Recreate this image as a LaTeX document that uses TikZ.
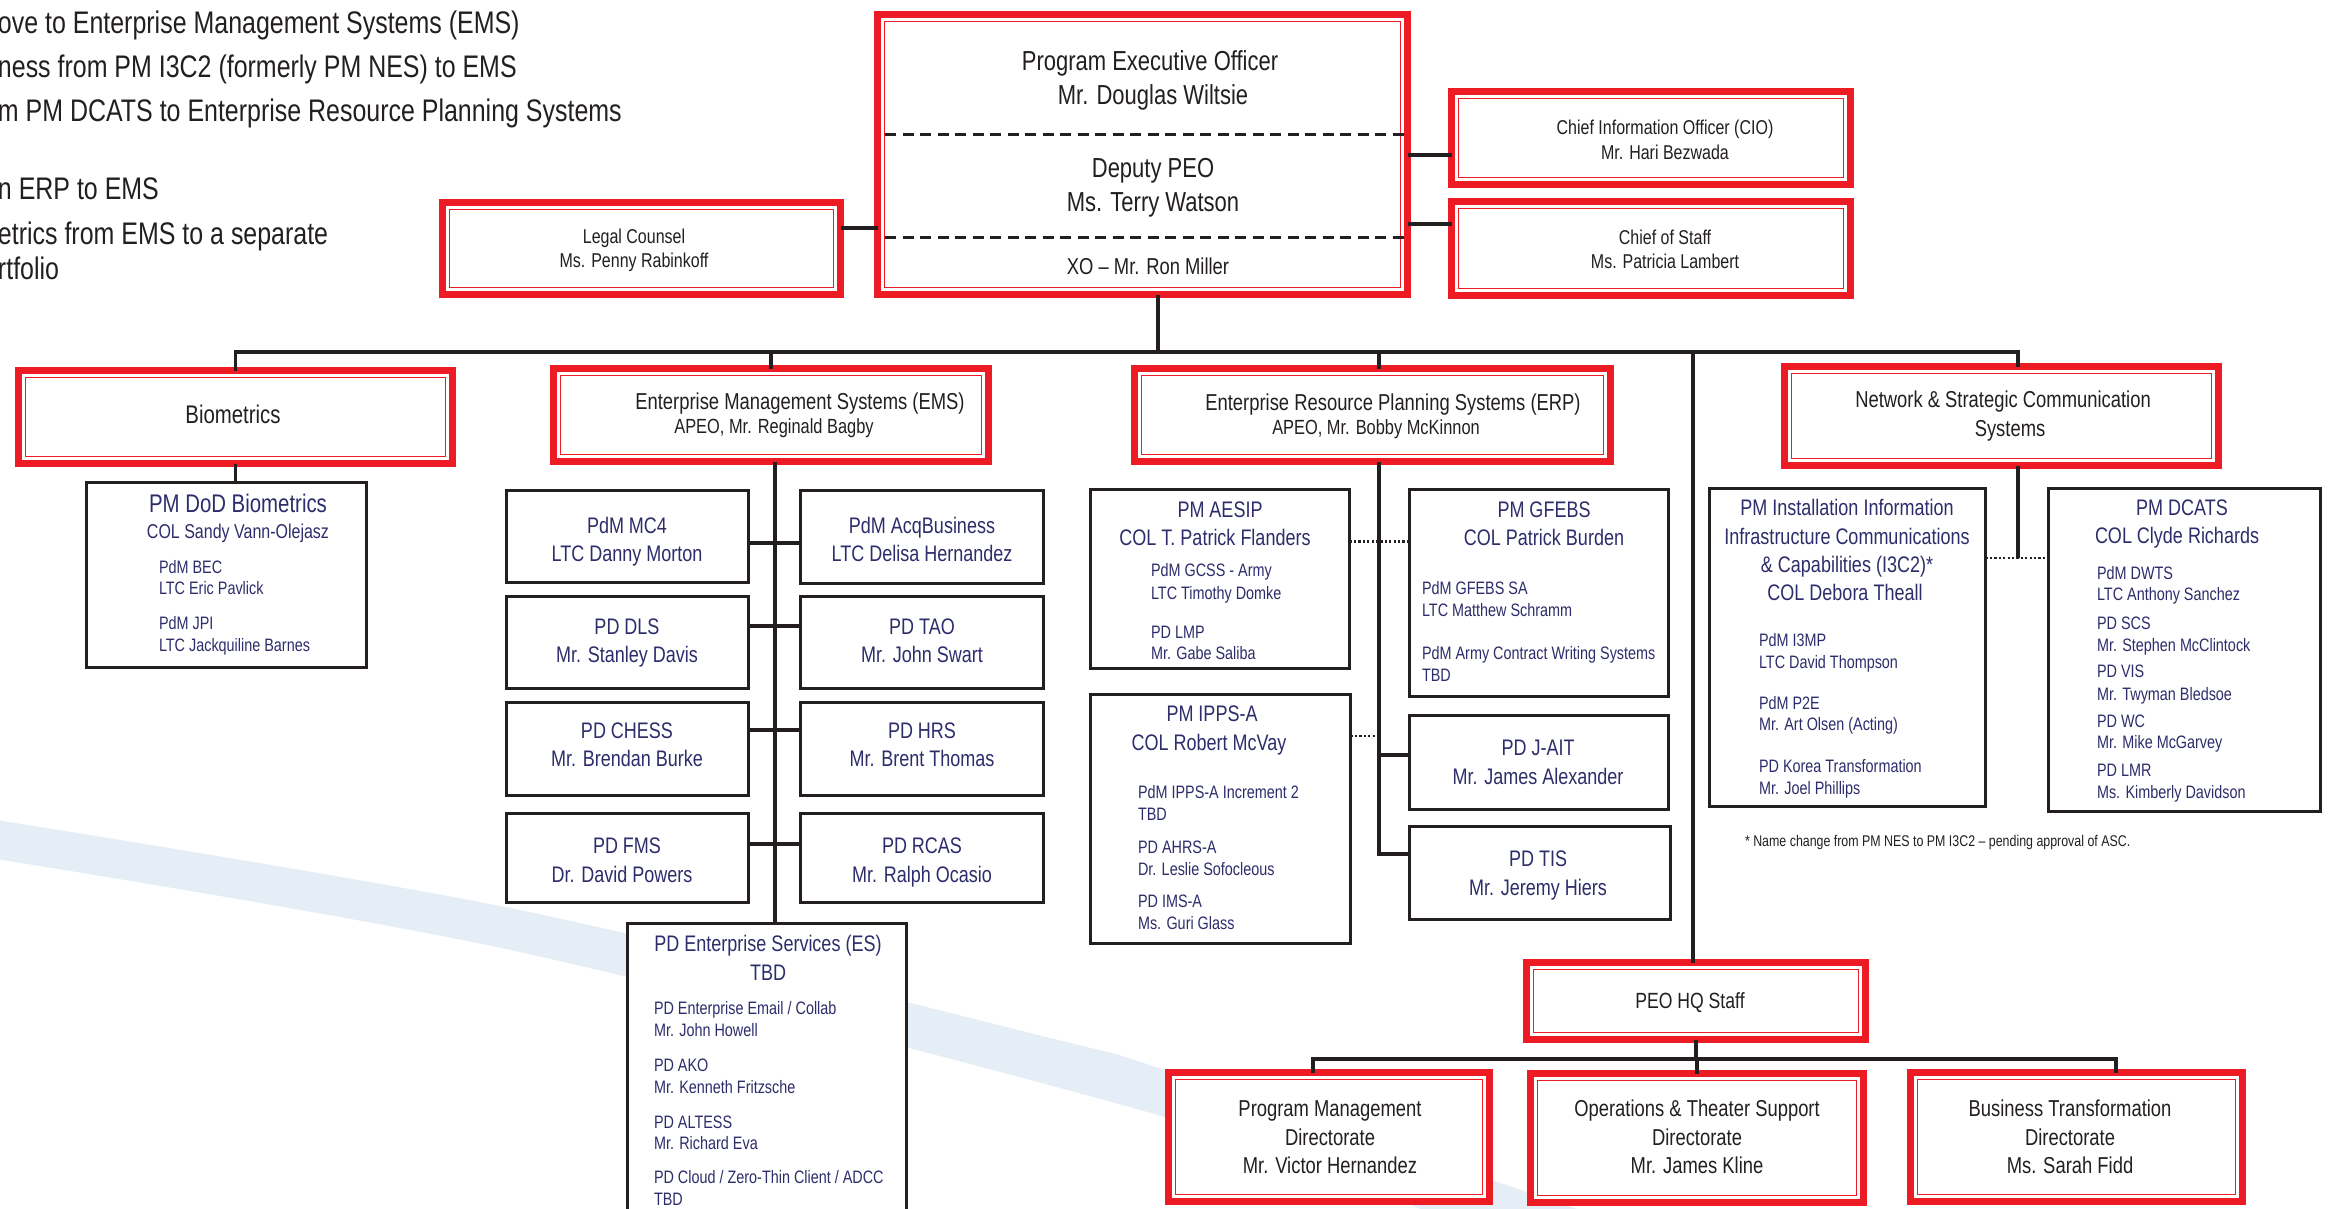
\documentclass[tikz,border=0pt]{standalone}
\usepackage{fontspec}
\setmainfont{Liberation Sans}[FakeStretch=0.8]
\usetikzlibrary{calc}
\definecolor{boxred}{HTML}{ED1C24}
\definecolor{ink}{HTML}{231F20}
\definecolor{navy}{HTML}{2E2D6B}
\definecolor{swoosh}{HTML}{E5EEF6}
\tikzset{
  redbox/.style={draw=boxred, line width=7pt, fill=white, inner sep=0pt, outer sep=0pt},
  redthin/.style={draw=boxred, line width=1.8pt},
  blkbox/.style={draw=ink, line width=3pt, fill=white, inner sep=0pt, outer sep=0pt},
  conn/.style={draw=ink, line width=3.5pt},
  dotc/.style={draw=ink, line width=2.8pt, dash pattern=on 2.2pt off 2.2pt},
  peodash/.style={draw=ink, line width=3pt, dash pattern=on 11pt off 6.5pt},
  tx/.style={inner sep=0pt, outer sep=0pt, anchor=base, font=\fontsize{#1pt}{#1pt}\selectfont, yshift={-0.36*#1pt}},
  tl/.style={tx=#1, anchor=base west},
}
\newcommand\RBox[5]{%
  \node[redbox, minimum width={(#4-#2-7)*1pt}, minimum height={(#5-#3-7)*1pt}] (#1) at ({(#2+#4)/2},{(#3+#5)/2}) {};
  \draw[redthin] ($(#1.south west)+(7,-7)$) rectangle ($(#1.north east)+(-7,7)$);}
\newcommand\BBox[5]{%
  \node[blkbox, minimum width={(#4-#2-3)*1pt}, minimum height={(#5-#3-3)*1pt}] (#1) at ({(#2+#4)/2},{(#3+#5)/2}) {};}
\begin{document}
\begin{tikzpicture}[x=1pt, y=-1pt]
\useasboundingbox (0,0) rectangle (2328,1209);
\fill[white] (0,0) rectangle (2328,1209);
% background swoosh
\fill[swoosh] plot[smooth] coordinates {(-10,819) (520,910) (1050,1038) (1165,1070) (1527,1192) (1600,1217)}
  -- plot[smooth] coordinates {(1440,1217) (1165,1117) (520,952) (-10,858)} -- cycle;

% top-left notes
\node[tl=31.2, ink] (n1) at (-2,22) {ove to Enterprise Management Systems (EMS)};
\node[tl=31.2, ink] (n2) at (-2,66.5) {ness from PM I3C2 (formerly PM NES) to EMS};
\node[tl=31.2, ink] (n3) at (-2,110) {m PM DCATS to Enterprise Resource Planning Systems};
\node[tl=31.2, ink] (n4) at (-2,188.5) {n ERP to EMS};
\node[tl=31.2, ink] (n5) at (-2,233) {etrics from EMS to a separate};
\node[tl=31.2, ink] (n6) at (-2,268.5) {rtfolio};

% red boxes
\RBox{peo}{874}{11}{1411}{298}
\RBox{cio}{1448}{88}{1854}{188}
\RBox{cos}{1448}{198}{1854}{299}
\RBox{legal}{439}{199}{844}{298}
\RBox{bio}{15}{367}{456}{467}
\RBox{ems}{550}{365}{992}{465}
\RBox{erp}{1131}{365}{1614}{465}
\RBox{nscs}{1781}{363}{2222}{469}
\RBox{hq}{1523}{959}{1869}{1043}
\RBox{pmd}{1165}{1069}{1493}{1205}
\RBox{ots}{1527}{1070}{1867}{1206}
\RBox{bt}{1907}{1069}{2246}{1205}

% black boxes
\BBox{pmbio}{85}{481}{368}{669}
\BBox{mc4}{505}{489}{750}{584}
\BBox{acq}{799}{489}{1045}{585}
\BBox{dls}{505}{595}{750}{690}
\BBox{tao}{799}{595}{1045}{690}
\BBox{chess}{505}{701}{750}{797}
\BBox{hrs}{799}{701}{1045}{797}
\BBox{fms}{505}{812}{750}{904}
\BBox{rcas}{799}{812}{1045}{904}
\BBox{es}{626}{922}{908}{1240}
\BBox{aesip}{1089}{488}{1351}{670}
\BBox{gfebs}{1408}{488}{1670}{698}
\BBox{ipps}{1089}{693}{1352}{945}
\BBox{jait}{1408}{714}{1670}{811}
\BBox{tis}{1408}{825}{1672}{921}
\BBox{i3c2}{1708}{487}{1987}{808}
\BBox{dcats}{2047}{487}{2322}{813}

% PEO dashed separators
\draw[peodash] (885,135) -- (1405,135);
\draw[peodash] (885,237) -- (1405,237);

% connector coordinates
\coordinate (busR) at (2018,352);
\coordinate (peoX) at (1158,352);
\coordinate (erpX) at (1379,352);
\coordinate (hqX) at (1693,352);
\coordinate (lgY) at (0,228);
\coordinate (cioY) at (0,155);
\coordinate (cosY) at (0,224);
\coordinate (emsX) at (775,0);
\coordinate (r1) at (775,543);
\coordinate (r2) at (775,626);
\coordinate (r3) at (775,730);
\coordinate (r4) at (775,844);
\coordinate (jY) at (1379,755);
\coordinate (tY) at (1379,854);
\coordinate (dA) at (1379,541.5);
\coordinate (dB) at (1379,736);
\coordinate (dN) at (2018,558);
\coordinate (sbL) at (1313,1059);
\coordinate (sbR) at (2116,1059);

% connectors
\draw[conn] (bio.north) |- (busR) -- (busR |- nscs.north);
\draw[conn] (peo.south -| peoX) -- (peoX);
\draw[conn] (ems.north) -- (ems.north |- busR);
\draw[conn] (erpX) -- (erpX |- erp.north);
\draw[conn] (hqX) -- (hqX |- hq.north);
\draw[conn] (legal.east |- lgY) -- (peo.west |- lgY);
\draw[conn] (peo.east |- cioY) -- (cio.west |- cioY);
\draw[conn] (peo.east |- cosY) -- (cos.west |- cosY);
\draw[conn] (bio.south) -- (bio.south |- pmbio.north);
\draw[conn] (emsX |- ems.south) -- (emsX |- es.north);
\foreach \l/\r/\c in {mc4/acq/r1, dls/tao/r2, chess/hrs/r3, fms/rcas/r4}
  \draw[conn] (\l.east |- \c) -- (\r.west |- \c);
\draw[conn] (erpX |- erp.south) -- (tY) -- (tY -| tis.west);
\draw[conn] (jY) -- (jY -| jait.west);
\draw[dotc] (aesip.east |- dA) -- (gfebs.west |- dA);
\draw[dotc] (ipps.east |- dB) -- (dB);
\draw[conn] (busR |- nscs.south) -- (dN);
\draw[dotc] (i3c2.east |- dN) -- (dcats.west |- dN);
\draw[conn] (hq.south) -- (hq.south |- sbL);
\draw[conn] (sbL |- pmd.north) -- (sbL) -- (sbR) -- (sbR |- bt.north);
\draw[conn] (ots.north) -- (ots.north |- sbL);

% red box texts
\node[tx=27.5, ink] (peo1) at (1150,61) {Program Executive Officer};
\node[tx=27.5, ink] (peo2) at (1153,95) {Mr. Douglas Wiltsie};
\node[tx=27.5, ink] (peo3) at (1153,168) {Deputy PEO};
\node[tx=27.5, ink] (peo4) at (1153,202) {Ms. Terry Watson};
\node[tx=23, ink] (peo5) at (1148,266) {XO – Mr. Ron Miller};
\node[tx=20, ink] (lg1) at (634,236) {Legal Counsel};
\node[tx=20, ink] (lg2) at (634,260) {Ms. Penny Rabinkoff};
\node[tx=20, ink] (cio1) at (1665,127) {Chief Information Officer (CIO)};
\node[tx=20, ink] (cio2) at (1665,152) {Mr. Hari Bezwada};
\node[tx=20, ink] (cos1) at (1665,237) {Chief of Staff};
\node[tx=20, ink] (cos2) at (1665,261) {Ms. Patricia Lambert};
\node[tx=25.5, ink] (bio1) at (233,414) {Biometrics};
\node[tx=23, ink] (ems1) at (800,401) {Enterprise Management Systems (EMS)};
\node[tx=20.5, ink] (ems2) at (774,426) {APEO, Mr. Reginald Bagby};
\node[tx=23, ink] (erp1) at (1393,402) {Enterprise Resource Planning Systems (ERP)};
\node[tx=20.5, ink] (erp2) at (1376,427) {APEO, Mr. Bobby McKinnon};
\node[tx=23, ink] (ns1) at (2003,399) {Network \& Strategic Communication};
\node[tx=23, ink] (ns2) at (2010,428) {Systems};
\node[tx=22, ink] (hq1) at (1690,1001) {PEO HQ Staff};
\node[tx=23, ink] (pmd1) at (1330,1108) {Program Management};
\node[tx=23, ink] (pmd2) at (1330,1137) {Directorate};
\node[tx=23, ink] (pmd3) at (1330,1165) {Mr. Victor Hernandez};
\node[tx=23, ink] (ots1) at (1697,1108) {Operations \& Theater Support};
\node[tx=23, ink] (ots2) at (1697,1137) {Directorate};
\node[tx=23, ink] (ots3) at (1697,1165) {Mr. James Kline};
\node[tx=23, ink] (bt1) at (2070,1108) {Business Transformation};
\node[tx=23, ink] (bt2) at (2070,1137) {Directorate};
\node[tx=23, ink] (bt3) at (2070,1165) {Ms. Sarah Fidd};

% PM DoD Biometrics
\node[tx=25.5, navy] (pb1) at (238,503) {PM DoD Biometrics};
\node[tx=20, navy] (pb2) at (238,531) {COL Sandy Vann-Olejasz};
\node[tl=18, navy] (pb3) at (159,567) {PdM BEC};
\node[tl=18, navy] (pb4) at (159,588) {LTC Eric Pavlick};
\node[tl=18, navy] (pb5) at (159,623) {PdM JPI};
\node[tl=18, navy] (pb6) at (159,645) {LTC Jackquiline Barnes};

% EMS children
\node[tx=22.5, navy] (mc41) at (627,525.5) {PdM MC4};
\node[tx=22.5, navy] (mc42) at (627,553) {LTC Danny Morton};
\node[tx=22.5, navy] (acq1) at (922,525.5) {PdM AcqBusiness};
\node[tx=22.5, navy] (acq2) at (922,553) {LTC Delisa Hernandez};
\node[tx=22.5, navy] (dls1) at (627,626) {PD DLS};
\node[tx=22.5, navy] (dls2) at (627,654) {Mr. Stanley Davis};
\node[tx=22.5, navy] (tao1) at (922,626) {PD TAO};
\node[tx=22.5, navy] (tao2) at (922,654) {Mr. John Swart};
\node[tx=22.5, navy] (ch1) at (627,730) {PD CHESS};
\node[tx=22.5, navy] (ch2) at (627,758) {Mr. Brendan Burke};
\node[tx=22.5, navy] (hrs1) at (922,730) {PD HRS};
\node[tx=22.5, navy] (hrs2) at (922,758) {Mr. Brent Thomas};
\node[tx=22.5, navy] (fms1) at (627,845.5) {PD FMS};
\node[tx=22.5, navy] (fms2) at (622,874.5) {Dr. David Powers};
\node[tx=22.5, navy] (rc1) at (922,845.5) {PD RCAS};
\node[tx=22.5, navy] (rc2) at (922,874.5) {Mr. Ralph Ocasio};

% ES
\node[tx=22.5, navy] (es1) at (768,943) {PD Enterprise Services (ES)};
\node[tx=22.5, navy] (es2) at (768,972) {TBD};
\node[tl=18, navy] (es3) at (654,1008) {PD Enterprise Email / Collab};
\node[tl=18, navy] (es4) at (654,1030) {Mr. John Howell};
\node[tl=18, navy] (es5) at (654,1065) {PD AKO};
\node[tl=18, navy] (es6) at (654,1087) {Mr. Kenneth Fritzsche};
\node[tl=18, navy] (es7) at (654,1122) {PD ALTESS};
\node[tl=18, navy] (es8) at (654,1143) {Mr. Richard Eva};
\node[tl=18, navy] (es9) at (654,1177) {PD Cloud / Zero-Thin Client / ADCC};
\node[tl=18, navy] (es10) at (654,1199) {TBD};

% ERP children
\node[tx=22.5, navy] (ae1) at (1220,509) {PM AESIP};
\node[tx=22.5, navy] (ae2) at (1215,537) {COL T. Patrick Flanders};
\node[tl=18, navy] (ae3) at (1151,570) {PdM GCSS - Army};
\node[tl=18, navy] (ae4) at (1151,593) {LTC Timothy Domke};
\node[tl=18, navy] (ae5) at (1151,632) {PD LMP};
\node[tl=18, navy] (ae6) at (1151,653) {Mr. Gabe Saliba};
\node[tx=22.5, navy] (gf1) at (1544,509) {PM GFEBS};
\node[tx=22.5, navy] (gf2) at (1544,537) {COL Patrick Burden};
\node[tl=18, navy] (gf3) at (1422,588) {PdM GFEBS SA};
\node[tl=18, navy] (gf4) at (1422,610) {LTC Matthew Schramm};
\node[tl=18, navy] (gf5) at (1422,653) {PdM Army Contract Writing Systems};
\node[tl=18, navy] (gf6) at (1422,675) {TBD};
\node[tx=22.5, navy] (ip1) at (1212,713.5) {PM IPPS-A};
\node[tx=22.5, navy] (ip2) at (1209,742) {COL Robert McVay};
\node[tl=18, navy] (ip3) at (1138,792.5) {PdM IPPS-A Increment 2};
\node[tl=18, navy] (ip4) at (1138,814) {TBD};
\node[tl=18, navy] (ip5) at (1138,847) {PD AHRS-A};
\node[tl=18, navy] (ip6) at (1138,869) {Dr. Leslie Sofocleous};
\node[tl=18, navy] (ip7) at (1138,901) {PD IMS-A};
\node[tl=18, navy] (ip8) at (1138,923) {Ms. Guri Glass};
\node[tx=22.5, navy] (ja1) at (1538,747) {PD J-AIT};
\node[tx=22.5, navy] (ja2) at (1538,776) {Mr. James Alexander};
\node[tx=22.5, navy] (ti1) at (1538,858.5) {PD TIS};
\node[tx=22.5, navy] (ti2) at (1538,887) {Mr. Jeremy Hiers};

% NSCS children
\node[tx=22.5, navy] (i31) at (1847,507.5) {PM Installation Information};
\node[tx=22.5, navy] (i32) at (1847,536) {Infrastructure Communications};
\node[tx=22.5, navy] (i33) at (1847,564) {\& Capabilities (I3C2)*};
\node[tx=22.5, navy] (i34) at (1845,592) {COL Debora Theall};
\node[tl=18, navy] (i35) at (1759,640) {PdM I3MP};
\node[tl=18, navy] (i36) at (1759,662.5) {LTC David Thompson};
\node[tl=18, navy] (i37) at (1759,703) {PdM P2E};
\node[tl=18, navy] (i38) at (1759,724.5) {Mr. Art Olsen (Acting)};
\node[tl=18, navy] (i39) at (1759,766) {PD Korea Transformation};
\node[tl=18, navy] (i310) at (1759,788) {Mr. Joel Phillips};
\node[tx=22.5, navy] (dc1) at (2182,507) {PM DCATS};
\node[tx=22.5, navy] (dc2) at (2177,535.5) {COL Clyde Richards};
\node[tl=18, navy] (dc3) at (2097,573) {PdM DWTS};
\node[tl=18, navy] (dc4) at (2097,594.5) {LTC Anthony Sanchez};
\node[tl=18, navy] (dc5) at (2097,623) {PD SCS};
\node[tl=18, navy] (dc6) at (2097,645) {Mr. Stephen McClintock};
\node[tl=18, navy] (dc7) at (2097,671) {PD VIS};
\node[tl=18, navy] (dc8) at (2097,694) {Mr. Twyman Bledsoe};
\node[tl=18, navy] (dc9) at (2097,721) {PD WC};
\node[tl=18, navy] (dc10) at (2097,742.5) {Mr. Mike McGarvey};
\node[tl=18, navy] (dc11) at (2097,770.5) {PD LMR};
\node[tl=18, navy] (dc12) at (2097,792) {Ms. Kimberly Davidson};

% footnote
\node[tl=15.5, ink] (fn) at (1745,841) {* Name change from PM NES to PM I3C2 – pending approval of ASC.};
\end{tikzpicture}
\end{document}
